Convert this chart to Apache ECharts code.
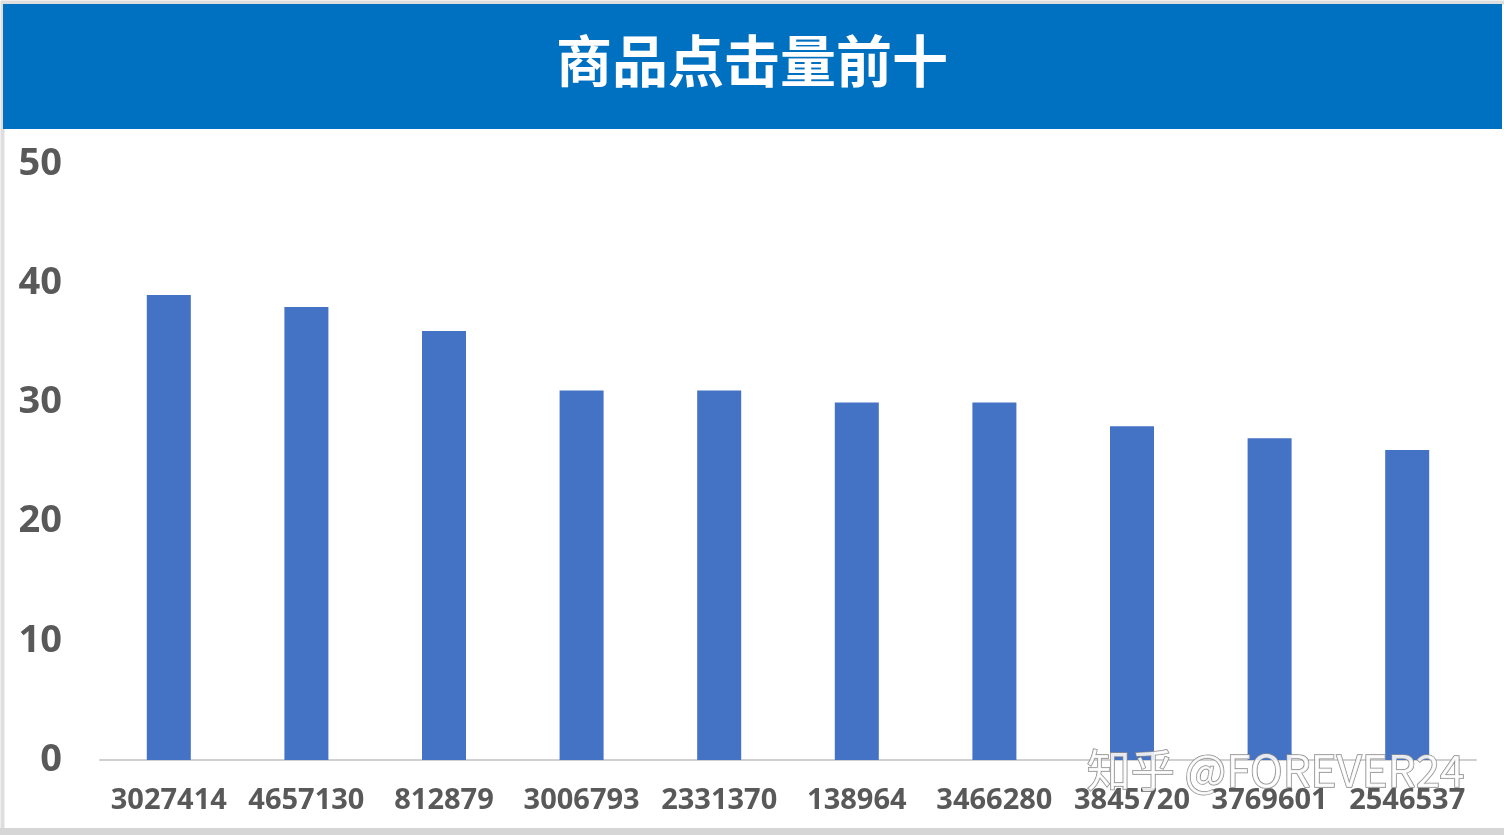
<!DOCTYPE html>
<html>
<head>
<meta charset="utf-8">
<script src="https://cdn.jsdelivr.net/npm/echarts@6/dist/echarts.min.js"></script>
<style>
html,body{margin:0;padding:0;background:#fff;}
#c{width:1504px;height:835px;}
</style>
</head>
<body>
<div id="c"></div>
<script>
const titleText = '商品点击量前十';
const categories = ['3027414','4657130','812879','3006793','2331370','138964','3466280','3845720','3769601','2546537'];
const clicks = [39, 38, 36, 31, 31, 30, 30, 28, 27, 26];
const yTicks = [0, 10, 20, 30, 40, 50];
const watermark = '知乎 @FOREVER24';

const chart = echarts.init(document.getElementById('c'), null, {renderer: 'canvas'});
chart.setOption({
  backgroundColor: '#fff',
  animation: false,
  graphic: [
    {type: 'rect', left: 0, top: 0, shape: {width: 1504, height: 835}, style: {fill: 'none', stroke: '#dedede', lineWidth: 4}, z: 0},
    {type: 'rect', left: 0, top: 828, shape: {width: 1504, height: 7}, style: {fill: '#d6d6d6'}, z: 0},
    {type: 'rect', left: 3, top: 4, shape: {width: 1499, height: 125}, style: {fill: '#0070C0'}, z: 1},
    {type: 'text', left: 'center', top: 33, style: {text: titleText, fill: '#fff', font: 'bold 56px "Noto Sans CJK SC"'}, z: 2},
    {type: 'text', left: 1086, top: 748, style: {text: watermark, fill: 'rgba(255,255,255,0.85)', stroke: '#8c8c8c', lineWidth: 1.5, font: '44px "Noto Sans CJK SC"'}, z: 100}
  ],
  grid: {left: 100, right: 28, top: 164, bottom: 75, containLabel: false},
  xAxis: {
    type: 'category',
    data: categories,
    axisLine: {lineStyle: {color: '#d0d0d0', width: 2}},
    axisTick: {show: false},
    axisLabel: {color: '#595959', fontFamily: 'Open Sans', fontWeight: 'bold', fontSize: 29, margin: 26, interval: 0}
  },
  yAxis: {
    type: 'value',
    min: yTicks[0],
    max: yTicks[yTicks.length - 1],
    interval: 10,
    axisLine: {show: false},
    axisTick: {show: false},
    splitLine: {show: false},
    axisLabel: {color: '#595959', fontFamily: 'Open Sans', fontWeight: 'bold', fontSize: 38, margin: 38}
  },
  series: [{
    type: 'bar',
    data: clicks,
    barWidth: 44,
    itemStyle: {color: '#4472C4'}
  }]
});
</script>
</body>
</html>
